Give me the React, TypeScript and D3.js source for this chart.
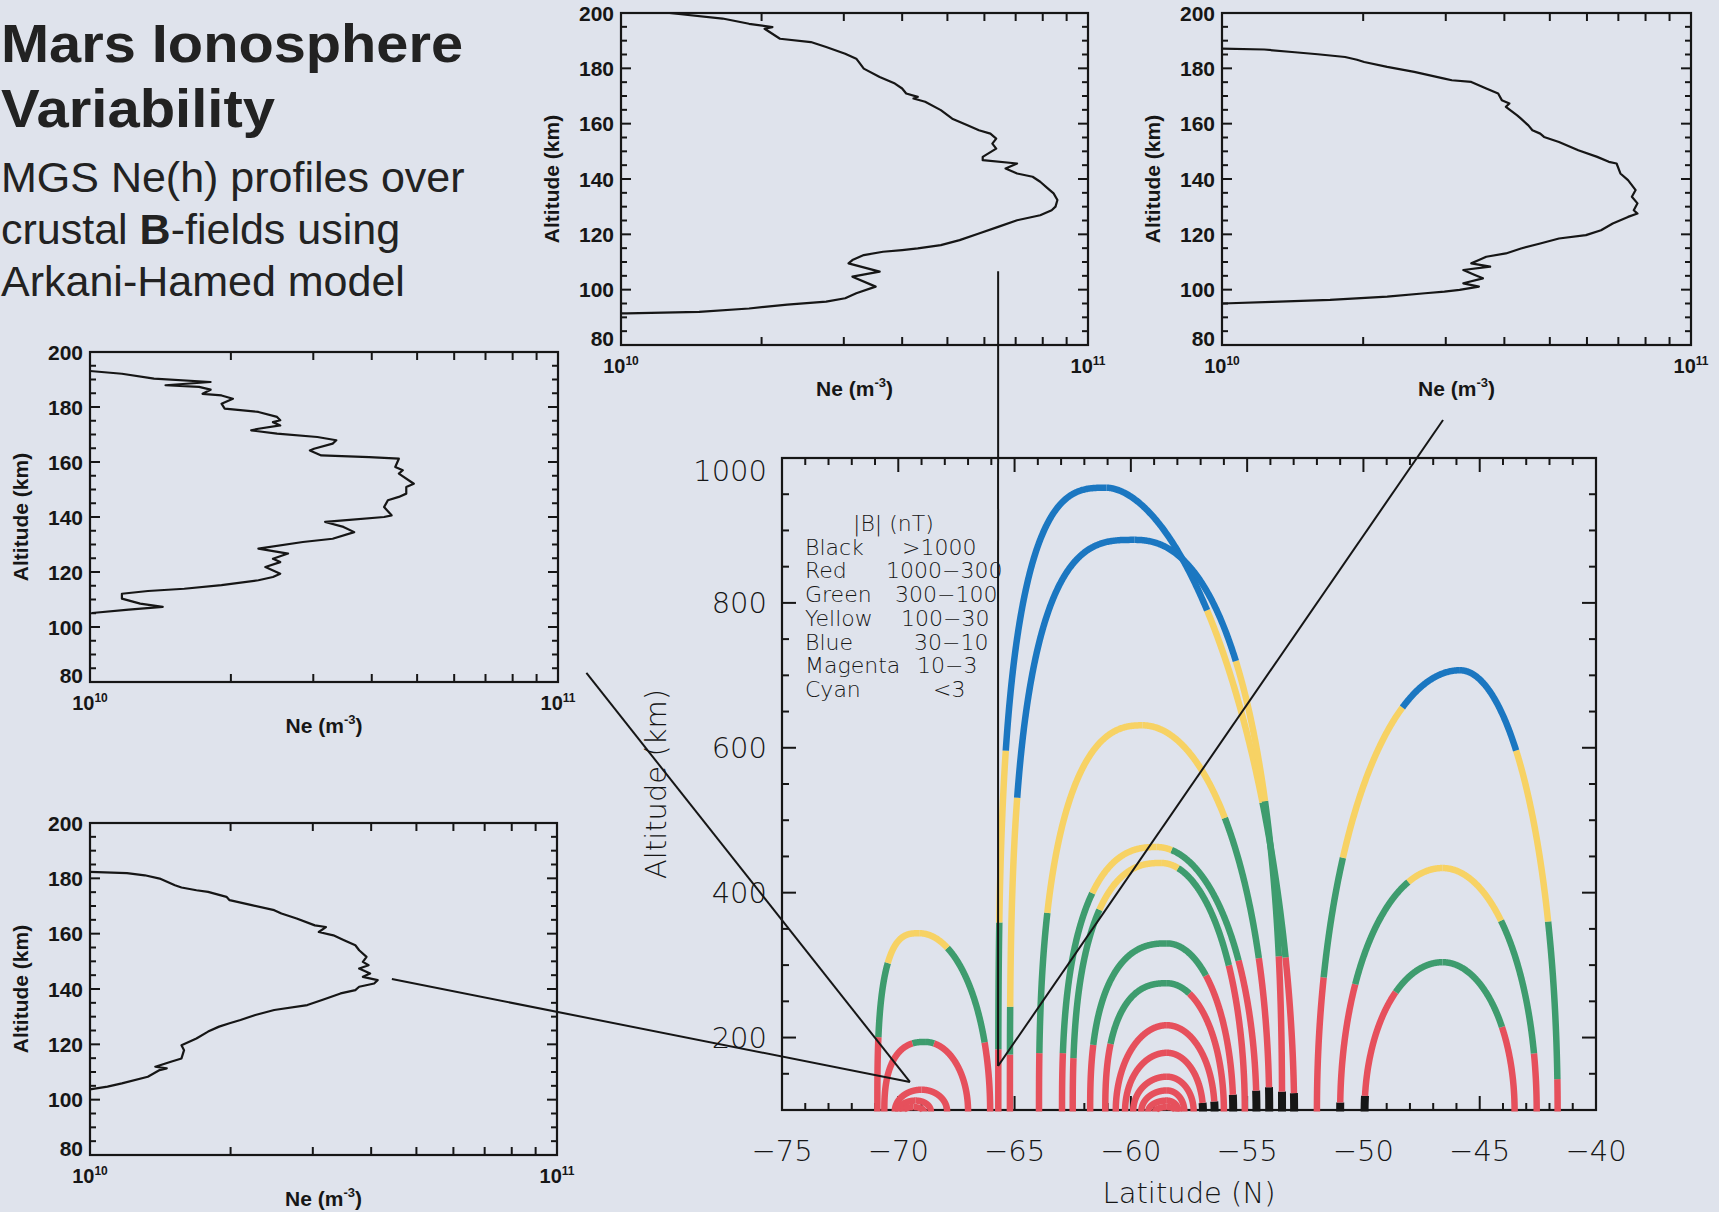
import React from "react";
import * as d3 from "d3";

// ---------------- page / style constants ----------------
const W = 1719;
const H = 1212;
const BG = "#dfe3ec";
const INK = "#161616";
const HERSHEY = "'DejaVu Sans', 'Liberation Sans', sans-serif";
const HELV = "'Liberation Sans', Arial, Helvetica, sans-serif";

// ---------------- slide text ----------------
const TITLE_LINES = ["Mars Ionosphere", "Variability"];
const SUBTITLE_LINE_1 = "MGS Ne(h) profiles over";
const SUBTITLE_LINE_2 = ["crustal ", "B", "-fields using"];
const SUBTITLE_LINE_3 = "Arkani-Hamed model";

// ---------------- main chart (field lines) ----------------
const LAT_DOMAIN = [-75, -40];
const ALT_DOMAIN = [100, 1000];
const LAT_TICKS = [-75, -70, -65, -60, -55, -50, -45, -40];
const ALT_TICKS = [200, 400, 600, 800, 1000];
const X_TITLE = "Latitude (N)";
const Y_TITLE = "Altitude (km)";

const LEGEND_TITLE = "|B| (nT)";
const LEGEND_NAMES = ["Black", "Red", "Green", "Yellow", "Blue", "Magenta", "Cyan"];
const LEGEND_RANGES = [">1000", "1000\u2212300", "300\u2212100", "100\u221230", "30\u221210", "10\u22123", "<3"];

const BAND_COLORS: Record<string, string> = {
  k: "#161616",
  r: "#e6505c",
  g: "#3e9c6e",
  y: "#f7d264",
  b: "#1b77c1",
};

// field-line loops: west / east footpoints (deg), apex (deg, km)
const ARC_ID = ["A1", "A2", "A3", "A4", "A5", "B1", "B2", "Y", "C1", "C2", "D1", "D2", "E1", "E2", "E3", "E4", "E5", "E6", "F1", "F2", "F3"];
const ARC_WEST_FOOT = [-70.9, -70.6, -70.15, -70.0, -69.8, -65.7, -65.2, -63.95, -62.96, -62.5, -61.75, -61.1, -60.65, -60.25, -59.9, -59.55, -59.25, -58.95, -52.0, -51.0, -49.95];
const ARC_EAST_FOOT = [-66.05, -67.0, -67.9, -68.6, -68.9, -52.98, -53.5, -54.05, -54.6, -55.1, -55.6, -56.0, -56.4, -56.9, -57.3, -57.7, -57.95, -58.05, -41.65, -42.55, -43.5];
const ARC_APEX_LAT = [-69.1, -68.85, -69.0, -69.25, -69.35, -61.05, -59.85, -59.5, -58.9, -58.7, -58.45, -58.45, -58.45, -58.45, -58.45, -58.45, -58.45, -58.45, -45.85, -46.6, -46.6];
const ARC_APEX_ALT = [344, 194, 128, 113, 104, 959, 887, 631, 463, 441, 330, 275, 217, 179, 146, 127, 113, 104, 707, 434, 304];
// squareness of each leg (superellipse exponent read from the loop shape)
const ARC_WEST_EXP = [3, 2.5, 2, 2, 2, 3, 3, 2.5, 2.5, 2.5, 2.5, 2.5, 2, 2, 2, 2, 2, 2, 2, 2, 2];
const ARC_EAST_EXP = [2, 2, 2, 2, 2, 1.8, 2.3, 2, 2, 2, 2, 2, 2, 2, 2, 2, 2, 2, 2, 2, 2];
// colour bands from the surface upward: colour letter + altitude (km) where it ends
const ARC_WEST_BANDS = ["r201 g303 y", "r192 g", "r", "r", "r", "r190 g362 y597 b", "r185 g248 y532 b", "r180 g373 y", "r180 g400 y", "r173 g377 y", "r190 g", "r192 g", "r", "r", "r", "r", "r", "r", "r284 g449 y656 b", "k112 r275 g415 y", "k120 r263 g"];
const ARC_EAST_BANDS = ["r194 g324 y", "r192 g", "r", "r", "r", "k125 r311 g528 y790 b", "k130 r313 g528 y721 b", "k132 r311 g504 y", "k128 r307 g459 y", "r300 g434 y", "k122 r286 g", "r261 g", "k112 r", "k110 r", "r", "r", "r", "r", "r144 g362 y597 b", "r179 g362 y", "r215 g"];
const FOOT_ALT = 98;

// ---------------- Ne(h) profiles: [Ne (1e10 m^-3), altitude km] ----------------
const PROFILE_TOP_MID: [number, number][] = [
  [1.27, 200], [1.65, 198.0], [1.88, 196.1], [2.11, 194.9], [2.03, 194.3], [2.19, 190.7], [2.55, 189.5],
  [2.75, 187.7], [3.02, 185.3], [3.19, 183.5], [3.25, 181.7], [3.31, 179.9], [3.58, 176.9], [3.86, 174.5],
  [4.0, 172.7], [4.08, 170.9], [4.32, 169.7], [4.23, 169.1], [4.48, 167.9], [4.84, 164.9], [5.12, 161.8],
  [5.52, 159.4], [5.84, 157.6], [6.18, 156.4], [6.36, 154.6], [6.24, 152.8], [6.36, 151.0], [5.95, 148.0],
  [5.95, 146.8], [7.05, 145.6], [6.66, 143.8], [7.05, 142.0], [7.61, 140.8], [7.9, 139.0], [8.2, 136.6],
  [8.44, 134.8], [8.6, 132.4], [8.52, 130.0], [8.36, 128.7], [7.9, 126.9], [7.05, 125.1], [6.42, 122.7],
  [5.84, 120.3], [5.31, 117.9], [4.84, 116.1], [4.32, 114.9], [4.0, 114.3], [3.64, 113.7], [3.31, 112.5],
  [3.13, 110.7], [3.07, 109.5], [3.58, 106.5], [3.13, 104.7], [3.51, 101.1], [3.19, 98.7], [3.02, 96.9],
  [2.75, 95.7], [2.27, 94.6], [1.88, 93.2], [1.47, 92.0], [1.03, 91.4], [1.0, 91.4],
];
const PROFILE_TOP_RIGHT: [number, number][] = [
  [1.0, 187.1], [1.23, 186.8], [1.41, 185.9], [1.6, 185.1], [1.83, 184.1], [1.94, 183.1], [2.01, 182.3],
  [2.25, 180.5], [2.57, 178.7], [2.98, 176.3], [3.09, 175.7], [3.4, 175.1], [3.66, 172.7], [3.88, 170.9],
  [3.95, 168.5], [4.1, 167.3], [4.03, 166.1], [4.26, 163.0], [4.34, 161.8], [4.5, 159.4], [4.59, 157.6],
  [4.77, 156.4], [4.86, 155.2], [5.23, 153.4], [5.75, 150.4], [6.31, 148.0], [6.68, 146.2], [6.94, 145.6],
  [7.07, 142.0], [7.34, 139.6], [7.62, 136.0], [7.48, 133.6], [7.69, 131.2], [7.55, 128.7], [7.69, 127.5],
  [7.34, 126.3], [6.81, 123.9], [6.43, 121.5], [5.97, 119.7], [5.23, 118.5], [4.77, 116.7], [4.34, 114.9],
  [4.03, 113.1], [3.66, 111.9], [3.53, 110.7], [3.4, 109.5], [3.73, 108.3], [3.27, 107.1], [3.46, 105.3],
  [3.6, 104.1], [3.27, 102.3], [3.53, 101.1], [3.21, 99.9], [2.98, 99.3], [2.71, 98.7], [2.25, 97.5],
  [1.7, 96.3], [1.28, 95.6], [1.0, 95.0],
];
const PROFILE_MID_LEFT: [number, number][] = [
  [1.0, 193.1], [1.17, 192.1], [1.37, 190.3], [1.81, 189.1], [1.45, 187.9], [1.71, 187.3], [1.81, 186.3],
  [1.74, 184.8], [1.91, 184.2], [2.02, 183.0], [1.91, 181.2], [1.94, 179.4], [2.29, 178.2], [2.51, 176.4],
  [2.55, 175.2], [2.46, 174.5], [2.55, 173.3], [2.29, 172.1], [2.21, 171.5], [2.51, 170.3], [3.06, 169.1],
  [3.36, 167.9], [3.3, 166.7], [3.01, 164.8], [2.95, 164.2], [3.12, 162.4], [3.95, 161.8], [4.57, 161.2],
  [4.49, 158.2], [4.66, 157.0], [4.57, 155.8], [4.92, 152.1], [4.74, 150.9], [4.74, 148.5], [4.57, 147.3],
  [4.33, 146.1], [4.25, 143.6], [4.41, 140.6], [4.25, 140.0], [3.48, 138.8], [3.18, 138.2], [3.48, 136.4],
  [3.67, 134.5], [3.3, 132.1], [2.85, 130.9], [2.29, 128.5], [2.65, 126.7], [2.46, 124.8], [2.55, 123.6],
  [2.37, 121.8], [2.55, 119.4], [2.46, 118.2], [2.29, 117.0], [1.91, 115.2], [1.59, 113.9], [1.33, 113.1],
  [1.17, 112.1], [1.17, 110.3], [1.28, 108.5], [1.43, 107.3], [1.21, 106.3], [1.01, 105.1],
];
const PROFILE_BOTTOM_LEFT: [number, number][] = [
  [1.0, 182.3], [1.2, 181.9], [1.31, 181.1], [1.41, 179.9], [1.52, 177.5], [1.57, 176.7], [1.69, 175.7],
  [1.79, 175.1], [1.96, 173.3], [1.99, 172.1], [2.22, 170.3], [2.48, 168.5], [2.57, 167.3], [2.77, 165.5],
  [3.03, 163.0], [3.2, 162.4], [3.09, 160.6], [3.32, 159.4], [3.5, 157.6], [3.7, 155.8], [3.77, 154.0],
  [3.91, 151.6], [3.84, 149.8], [3.95, 148.6], [3.77, 147.4], [3.98, 145.6], [3.84, 144.4], [4.13, 143.2],
  [4.06, 142.0], [3.77, 140.8], [3.7, 139.6], [3.44, 138.4], [3.14, 136.0], [2.92, 134.2], [2.48, 132.4],
  [2.26, 130.6], [2.1, 128.8], [1.99, 127.6], [1.89, 126.4], [1.79, 124.6], [1.69, 122.1], [1.57, 119.7],
  [1.59, 117.9], [1.57, 114.9], [1.49, 113.7], [1.38, 111.9], [1.46, 111.3], [1.41, 110.7], [1.33, 108.3],
  [1.17, 105.9], [1.09, 104.7], [1.0, 103.7],
];
const PROFILE_ALT_TICKS = [80, 100, 120, 140, 160, 180, 200];
const PROFILE_NE_DOMAIN = [1, 10];
const PROFILE_ALT_DOMAIN = [80, 200];

// leader lines: panel point (Ne, alt) -> main chart point (lat, alt)
const LEADER_PANEL = ["p1", "p2", "p3", "p4"];
const LEADER_NE = [6.42, 2.96, 11.5, 4.43];
const LEADER_PANEL_ALT = [106.7, 52.9, 83.3, 143.6];
const LEADER_LAT = [-65.71, -65.71, -69.5, -69.5];
const LEADER_ALT = [160.7, 160.7, 138.7, 138.7];

// ---------------- layout ----------------
const MAIN = { left: 782, right: 1596, top: 458, bottom: 1110 };
const PANELS = [
  { id: "p1", left: 621, right: 1088, top: 13, bottom: 345, data: PROFILE_TOP_MID },
  { id: "p2", left: 1222, right: 1691, top: 13, bottom: 345, data: PROFILE_TOP_RIGHT },
  { id: "p3", left: 90, right: 558, top: 352, bottom: 682, data: PROFILE_MID_LEFT },
  { id: "p4", left: 90, right: 557, top: 823, bottom: 1155, data: PROFILE_BOTTOM_LEFT },
];
const LEGEND_NAME_X = 805;
const LEGEND_VALUE_X = [902, 886, 895, 901, 914, 917, 933];
const LEGEND_TITLE_X = 853;
const LEGEND_TOP_BASELINE = 531;
const LEGEND_STEP = 23.7;

// ---------------- helpers ----------------
function parseBands(s: string) {
  return s.split(" ").map((tok) => ({ c: tok[0], top: tok.length > 1 ? +tok.slice(1) : Infinity }));
}
function bandAt(bands: { c: string; top: number }[], alt: number) {
  for (const b of bands) if (alt < b.top) return b.c;
  return bands[bands.length - 1].c;
}
function legSegments(foot: number, apexLat: number, apexAlt: number, exp: number, bandStr: string) {
  const bands = parseBands(bandStr);
  const N = 300;
  const pts = d3.range(N + 1).map((i) => {
    const t = (i / N) * (Math.PI / 2);
    const u = Math.pow(Math.max(Math.cos(t), 0), 2 / exp);
    const v = Math.pow(Math.max(Math.sin(t), 0), 2 / exp);
    return [apexLat + (foot - apexLat) * u, FOOT_ALT + (apexAlt - FOOT_ALT) * v] as [number, number];
  });
  const segs: { c: string; pts: [number, number][] }[] = [];
  let cur: { c: string; pts: [number, number][] } | null = null;
  for (const p of pts) {
    const c = bandAt(bands, p[1]);
    if (!cur || cur.c !== c) {
      const prev = cur ? cur.pts[cur.pts.length - 1] : null;
      cur = { c, pts: prev ? [prev] : [] };
      segs.push(cur);
    }
    cur.pts.push(p);
  }
  return segs;
}

function ProfilePanel({ p }: { p: (typeof PANELS)[number] }) {
  const xs = d3.scaleLog().domain(PROFILE_NE_DOMAIN).range([p.left, p.right]);
  const ys = d3.scaleLinear().domain(PROFILE_ALT_DOMAIN).range([p.bottom, p.top]);
  const line = d3.line<[number, number]>().x((d) => xs(d[0])).y((d) => ys(d[1]));
  const minorY = d3.range(80, 201, 5);
  const minorX = d3.range(2, 10, 1);
  const cx = (p.left + p.right) / 2;
  const cy = (p.top + p.bottom) / 2;
  return (
    <g>
      <path d={line(p.data) || ""} fill="none" stroke={INK} strokeWidth={2.2} strokeLinejoin="round" />
      <rect x={p.left} y={p.top} width={p.right - p.left} height={p.bottom - p.top} fill="none" stroke={INK} strokeWidth={2.2} />
      {minorY.map((v) => {
        const major = v % 20 === 0;
        const len = major ? 10 : 6;
        return (
          <g key={"y" + v}>
            <line x1={p.left} x2={p.left + len} y1={ys(v)} y2={ys(v)} stroke={INK} strokeWidth={2} />
            <line x1={p.right} x2={p.right - len} y1={ys(v)} y2={ys(v)} stroke={INK} strokeWidth={2} />
          </g>
        );
      })}
      {minorX.map((v) => (
        <g key={"x" + v}>
          <line x1={xs(v)} x2={xs(v)} y1={p.bottom} y2={p.bottom - 8} stroke={INK} strokeWidth={2} />
          <line x1={xs(v)} x2={xs(v)} y1={p.top} y2={p.top + 8} stroke={INK} strokeWidth={2} />
        </g>
      ))}
      {PROFILE_ALT_TICKS.map((v) => (
        <text
          key={"l" + v}
          x={p.left - 7}
          y={ys(v) + (v === PROFILE_ALT_DOMAIN[0] ? -7 : 0)}
          dy="0.36em"
          textAnchor="end"
          fontFamily={HELV}
          fontWeight="bold"
          fontSize={21}
          fill={INK}
        >
          {v}
        </text>
      ))}
      {[1, 10].map((v, i) => (
        <text key={"xl" + v} x={xs(v)} y={p.bottom + 28} textAnchor="middle" fontFamily={HELV} fontWeight="bold" fontSize={20} fill={INK}>
          10
          <tspan dy={-8} fontSize={12}>{i === 0 ? "10" : "11"}</tspan>
        </text>
      ))}
      <text x={cx} y={p.bottom + 51} textAnchor="middle" fontFamily={HELV} fontWeight="bold" fontSize={21} fill={INK}>
        Ne (m
        <tspan dy={-9} fontSize={13}>-3</tspan>
        <tspan dy={9}>)</tspan>
      </text>
      <text transform={`translate(${p.left - 62},${cy}) rotate(-90)`} textAnchor="middle" fontFamily={HELV} fontWeight="bold" fontSize={21} fill={INK}>
        Altitude (km)
      </text>
    </g>
  );
}

export default function App() {
  const x = d3.scaleLinear().domain(LAT_DOMAIN).range([MAIN.left, MAIN.right]);
  const y = d3.scaleLinear().domain(ALT_DOMAIN).range([MAIN.bottom, MAIN.top]);
  const line = d3.line<[number, number]>().x((d) => x(d[0])).y((d) => y(d[1]));

  const latMinor = d3.range(LAT_DOMAIN[0], LAT_DOMAIN[1] + 0.5, 1);
  const altMinor = d3.range(150, 1001, 50);

  const arcs = ARC_ID.map((id, i) => ({
    id,
    west: legSegments(ARC_WEST_FOOT[i], ARC_APEX_LAT[i], ARC_APEX_ALT[i], ARC_WEST_EXP[i], ARC_WEST_BANDS[i]),
    east: legSegments(ARC_EAST_FOOT[i], ARC_APEX_LAT[i], ARC_APEX_ALT[i], ARC_EAST_EXP[i], ARC_EAST_BANDS[i]),
  }));

  const panelById: Record<string, (typeof PANELS)[number]> = {};
  PANELS.forEach((p) => (panelById[p.id] = p));
  const leaders = LEADER_PANEL.map((pid, i) => {
    const p = panelById[pid];
    const xs = d3.scaleLog().domain(PROFILE_NE_DOMAIN).range([p.left, p.right]);
    const ys = d3.scaleLinear().domain(PROFILE_ALT_DOMAIN).range([p.bottom, p.top]);
    return { x1: xs(LEADER_NE[i]), y1: ys(LEADER_PANEL_ALT[i]), x2: x(LEADER_LAT[i]), y2: y(LEADER_ALT[i]) };
  });

  return (
    <>
      <style>{`body{margin:0;background:${BG};}`}</style>
      <svg width={W} height={H} viewBox={`0 0 ${W} ${H}`} style={{ display: "block" }}>
        <rect x={0} y={0} width={W} height={H} fill={BG} />

        {/* slide text */}
        <text x={1} y={62} fontFamily={HELV} fontWeight="bold" fontSize={54} fill="#222" textLength={462} lengthAdjust="spacingAndGlyphs">
          {TITLE_LINES[0]}
        </text>
        <text x={1} y={127} fontFamily={HELV} fontWeight="bold" fontSize={54} fill="#222" textLength={274} lengthAdjust="spacingAndGlyphs">
          {TITLE_LINES[1]}
        </text>
        <text x={1} y={192} fontFamily={HELV} fontSize={43} fill="#222">
          {SUBTITLE_LINE_1}
        </text>
        <text x={1} y={244} fontFamily={HELV} fontSize={43} fill="#222">
          {SUBTITLE_LINE_2[0]}
          <tspan fontWeight="bold">{SUBTITLE_LINE_2[1]}</tspan>
          {SUBTITLE_LINE_2[2]}
        </text>
        <text x={1} y={296} fontFamily={HELV} fontSize={43} fill="#222">
          {SUBTITLE_LINE_3}
        </text>

        {/* profile panels */}
        {PANELS.map((p) => (
          <ProfilePanel key={p.id} p={p} />
        ))}

        {/* main chart frame and ticks */}
        <rect x={MAIN.left} y={MAIN.top} width={MAIN.right - MAIN.left} height={MAIN.bottom - MAIN.top} fill="none" stroke={INK} strokeWidth={2.2} />
        {latMinor.map((v) => {
          const len = v % 5 === 0 ? 14 : 7;
          return (
            <g key={"lt" + v}>
              <line x1={x(v)} x2={x(v)} y1={MAIN.bottom} y2={MAIN.bottom - len} stroke={INK} strokeWidth={2} />
              <line x1={x(v)} x2={x(v)} y1={MAIN.top} y2={MAIN.top + len} stroke={INK} strokeWidth={2} />
            </g>
          );
        })}
        {altMinor.map((v) => {
          const len = v % 200 === 0 ? 14 : 7;
          return (
            <g key={"at" + v}>
              <line x1={MAIN.left} x2={MAIN.left + len} y1={y(v)} y2={y(v)} stroke={INK} strokeWidth={2} />
              <line x1={MAIN.right} x2={MAIN.right - len} y1={y(v)} y2={y(v)} stroke={INK} strokeWidth={2} />
            </g>
          );
        })}
        {LAT_TICKS.map((v) => (
          <text key={"ll" + v} x={x(v)} y={MAIN.bottom + 51} textAnchor="middle" fontFamily={HERSHEY} fontWeight={200} fontSize={29} fill={INK}>
            {d3.format("d")(v)}
          </text>
        ))}
        {ALT_TICKS.map((v) => (
          <text
            key={"al" + v}
            x={MAIN.left - 15}
            y={y(v) + (v === ALT_DOMAIN[1] ? 13 : 0)}
            dy="0.36em"
            textAnchor="end"
            fontFamily={HERSHEY}
            fontWeight={200}
            fontSize={29}
            fill={INK}
          >
            {v}
          </text>
        ))}
        <text x={(MAIN.left + MAIN.right) / 2} y={MAIN.bottom + 93} textAnchor="middle" fontFamily={HERSHEY} fontWeight={200} fontSize={29} fill={INK}>
          {X_TITLE}
        </text>
        <text transform={`translate(${MAIN.left - 116},${(MAIN.top + MAIN.bottom) / 2}) rotate(-90)`} textAnchor="middle" fontFamily={HERSHEY} fontWeight={200} fontSize={29} fill={INK}>
          {Y_TITLE}
        </text>

        {/* legend */}
        <text x={LEGEND_TITLE_X} y={LEGEND_TOP_BASELINE} fontFamily={HERSHEY} fontWeight={200} fontSize={22} fill={INK}>
          {LEGEND_TITLE}
        </text>
        {LEGEND_NAMES.map((n, i) => (
          <g key={n}>
            <text x={LEGEND_NAME_X} y={LEGEND_TOP_BASELINE + (i + 1) * LEGEND_STEP} fontFamily={HERSHEY} fontWeight={200} fontSize={22} fill={INK}>
              {n}
            </text>
            <text x={LEGEND_VALUE_X[i]} y={LEGEND_TOP_BASELINE + (i + 1) * LEGEND_STEP} fontFamily={HERSHEY} fontWeight={200} fontSize={22} fill={INK}>
              {LEGEND_RANGES[i]}
            </text>
          </g>
        ))}

        {/* field-line loops */}
        {arcs.map((a) => (
          <g key={a.id}>
            {[...a.west, ...a.east].map((s, j) => (
              <path
                key={j}
                d={line(s.pts) || ""}
                fill="none"
                stroke={BAND_COLORS[s.c]}
                strokeWidth={s.c === "k" ? 8 : 6.5}
                strokeLinecap="butt"
                strokeLinejoin="round"
              />
            ))}
          </g>
        ))}

        {/* leader lines */}
        {leaders.map((l, i) => (
          <line key={"ld" + i} x1={l.x1} y1={l.y1} x2={l.x2} y2={l.y2} stroke={INK} strokeWidth={2} />
        ))}
      </svg>
    </>
  );
}
